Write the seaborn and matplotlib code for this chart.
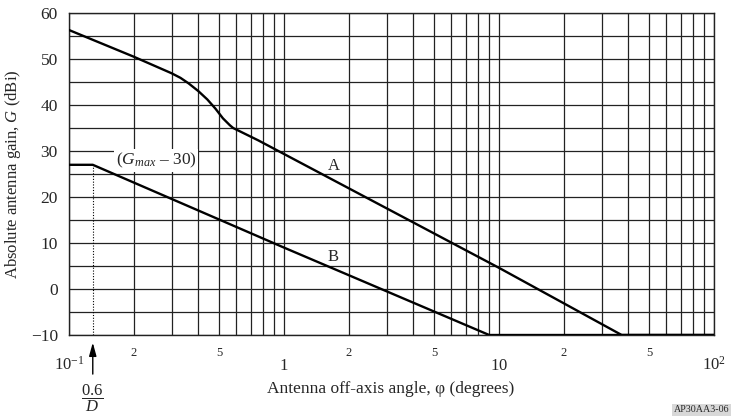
import numpy as np
import pandas as pd
import matplotlib
matplotlib.use("Agg")
import matplotlib.pyplot as plt
from matplotlib.ticker import FixedLocator, FixedFormatter, LogLocator, MultipleLocator, NullFormatter
import seaborn as sns

# curve A (reference pattern)
phi_a = [0.1, 0.2, 0.3, 0.33, 0.36, 0.40, 0.44, 0.48, 0.52, 0.56, 0.58, 0.76, 10, 37.2, 100]
gain_a = [56.3, 50.5, 46.9, 45.9, 44.7, 43.0, 41.2, 39.2, 37.1, 35.6, 35.0, 32.3, 4.6, -10, -10]

# curve B
phi_b = [0.1, 0.129, 1, 9.0, 100]
gain_b = [27.0, 27.0, 9.0, -10, -10]

major_x = [0.1, 1, 10, 100]
major_x_labels = ["$10^{-1}$", "$1$", "$10$", "$10^{2}$"]
minor_x = [0.2, 0.5, 2, 5, 20, 50]
minor_x_labels = ["2", "5", "2", "5", "2", "5"]
y_ticks = [-10, 0, 10, 20, 30, 40, 50, 60]

sns.set_style("white")
plt.rcParams["font.family"] = ["Liberation Serif", "DejaVu Serif"]
plt.rcParams["mathtext.fontset"] = "custom"
plt.rcParams["mathtext.rm"] = "Liberation Serif"
plt.rcParams["mathtext.it"] = "Liberation Serif:italic"
plt.rcParams["mathtext.bf"] = "Liberation Serif:bold"

fig = plt.figure(figsize=(7.31, 4.16), dpi=100)
ax = fig.add_axes([69 / 731, 1 - 335 / 416, (714 - 69) / 731, (335 - 13) / 416])
ax.set_xscale("log")
ax.set_xlim(0.1, 100)
ax.set_ylim(-10, 60)

df_a = pd.DataFrame({"phi": phi_a, "gain": gain_a})
df_b = pd.DataFrame({"phi": phi_b, "gain": gain_b})
sns.lineplot(data=df_a, x="phi", y="gain", ax=ax, color="black", lw=1.7,
             sort=False, estimator=None, zorder=3)
sns.lineplot(data=df_b, x="phi", y="gain", ax=ax, color="black", lw=1.7,
             sort=False, estimator=None, zorder=3)

# grid
ax.xaxis.set_major_locator(FixedLocator(major_x))
ax.xaxis.set_major_formatter(FixedFormatter(major_x_labels))
ax.xaxis.set_minor_locator(LogLocator(base=10, subs=np.arange(2, 10), numticks=20))
ax.xaxis.set_minor_formatter(NullFormatter())
ax.yaxis.set_major_locator(FixedLocator(y_ticks))
ax.yaxis.set_minor_locator(MultipleLocator(5))
ax.grid(True, which="both", color="#222222", lw=0.9)
ax.set_axisbelow(True)
for s in ax.spines.values():
    s.set_color("#222222")
    s.set_linewidth(1.0)

ax.tick_params(axis="both", which="both", length=0)
ax.tick_params(axis="y", labelsize=12.5, pad=8)
ax.tick_params(axis="x", which="major", labelsize=12, pad=25)
for lab in ax.xaxis.get_majorticklabels():
    lab.set_verticalalignment("baseline")

# minor labels 2 and 5 as a secondary set of tick labels
sec = ax.secondary_xaxis("bottom")
sec.xaxis.set_major_locator(FixedLocator(minor_x))
sec.xaxis.set_major_formatter(FixedFormatter(minor_x_labels))
sec.xaxis.set_minor_locator(FixedLocator([]))
sec.tick_params(axis="x", length=0, labelsize=9, pad=9)
sec.spines["bottom"].set_visible(False)

ax.set_xlabel("")
ax.set_ylabel("Absolute antenna gain, $G$ (dBi)", fontsize=12)
ax.yaxis.set_label_coords(-0.072, 0.5)
fig.text(391 / 731, 1 - 389 / 416, "Antenna off-axis angle, φ (degrees)",
         ha="center", va="center", fontsize=12.5)

# curve labels
ax.text(1.71, 26.7, "A", fontsize=12, ha="center", va="center")
ax.text(1.69, 6.9, "B", fontsize=12, ha="center", va="center")
ax.text(0.254, 27.9, "($G_{max}$ – 30)", fontsize=12.5, ha="center", va="center",
        bbox=dict(boxstyle="square,pad=0.12", fc="white", ec="none"), zorder=4)

# 0.6/D marker
ax.plot([phi_b[1], phi_b[1]], [-10, gain_b[1]], color="black", lw=0.8, ls=(0, (1, 1.5)), zorder=2)
ax.annotate("", xy=(phi_b[1], -0.015), xycoords=("data", "axes fraction"),
            xytext=(phi_b[1], -0.13), textcoords=("data", "axes fraction"),
            arrowprops=dict(arrowstyle="-|>,head_length=0.8,head_width=0.22",
                            color="black", lw=1.0))
ax.annotate(r"$\dfrac{0.6}{D}$", xy=(phi_b[1], 1 - 398 / 416), xycoords=("data", "figure fraction"),
            ha="center", va="center", fontsize=12, annotation_clip=False)

fig.text(729 / 731, 1 - 410 / 416, "AP30AA3-06", ha="right", va="center", fontsize=7.2,
         bbox=dict(boxstyle="square,pad=0.15", fc="#d8d8d8", ec="none"))

fig.savefig("out.png", dpi=100)
